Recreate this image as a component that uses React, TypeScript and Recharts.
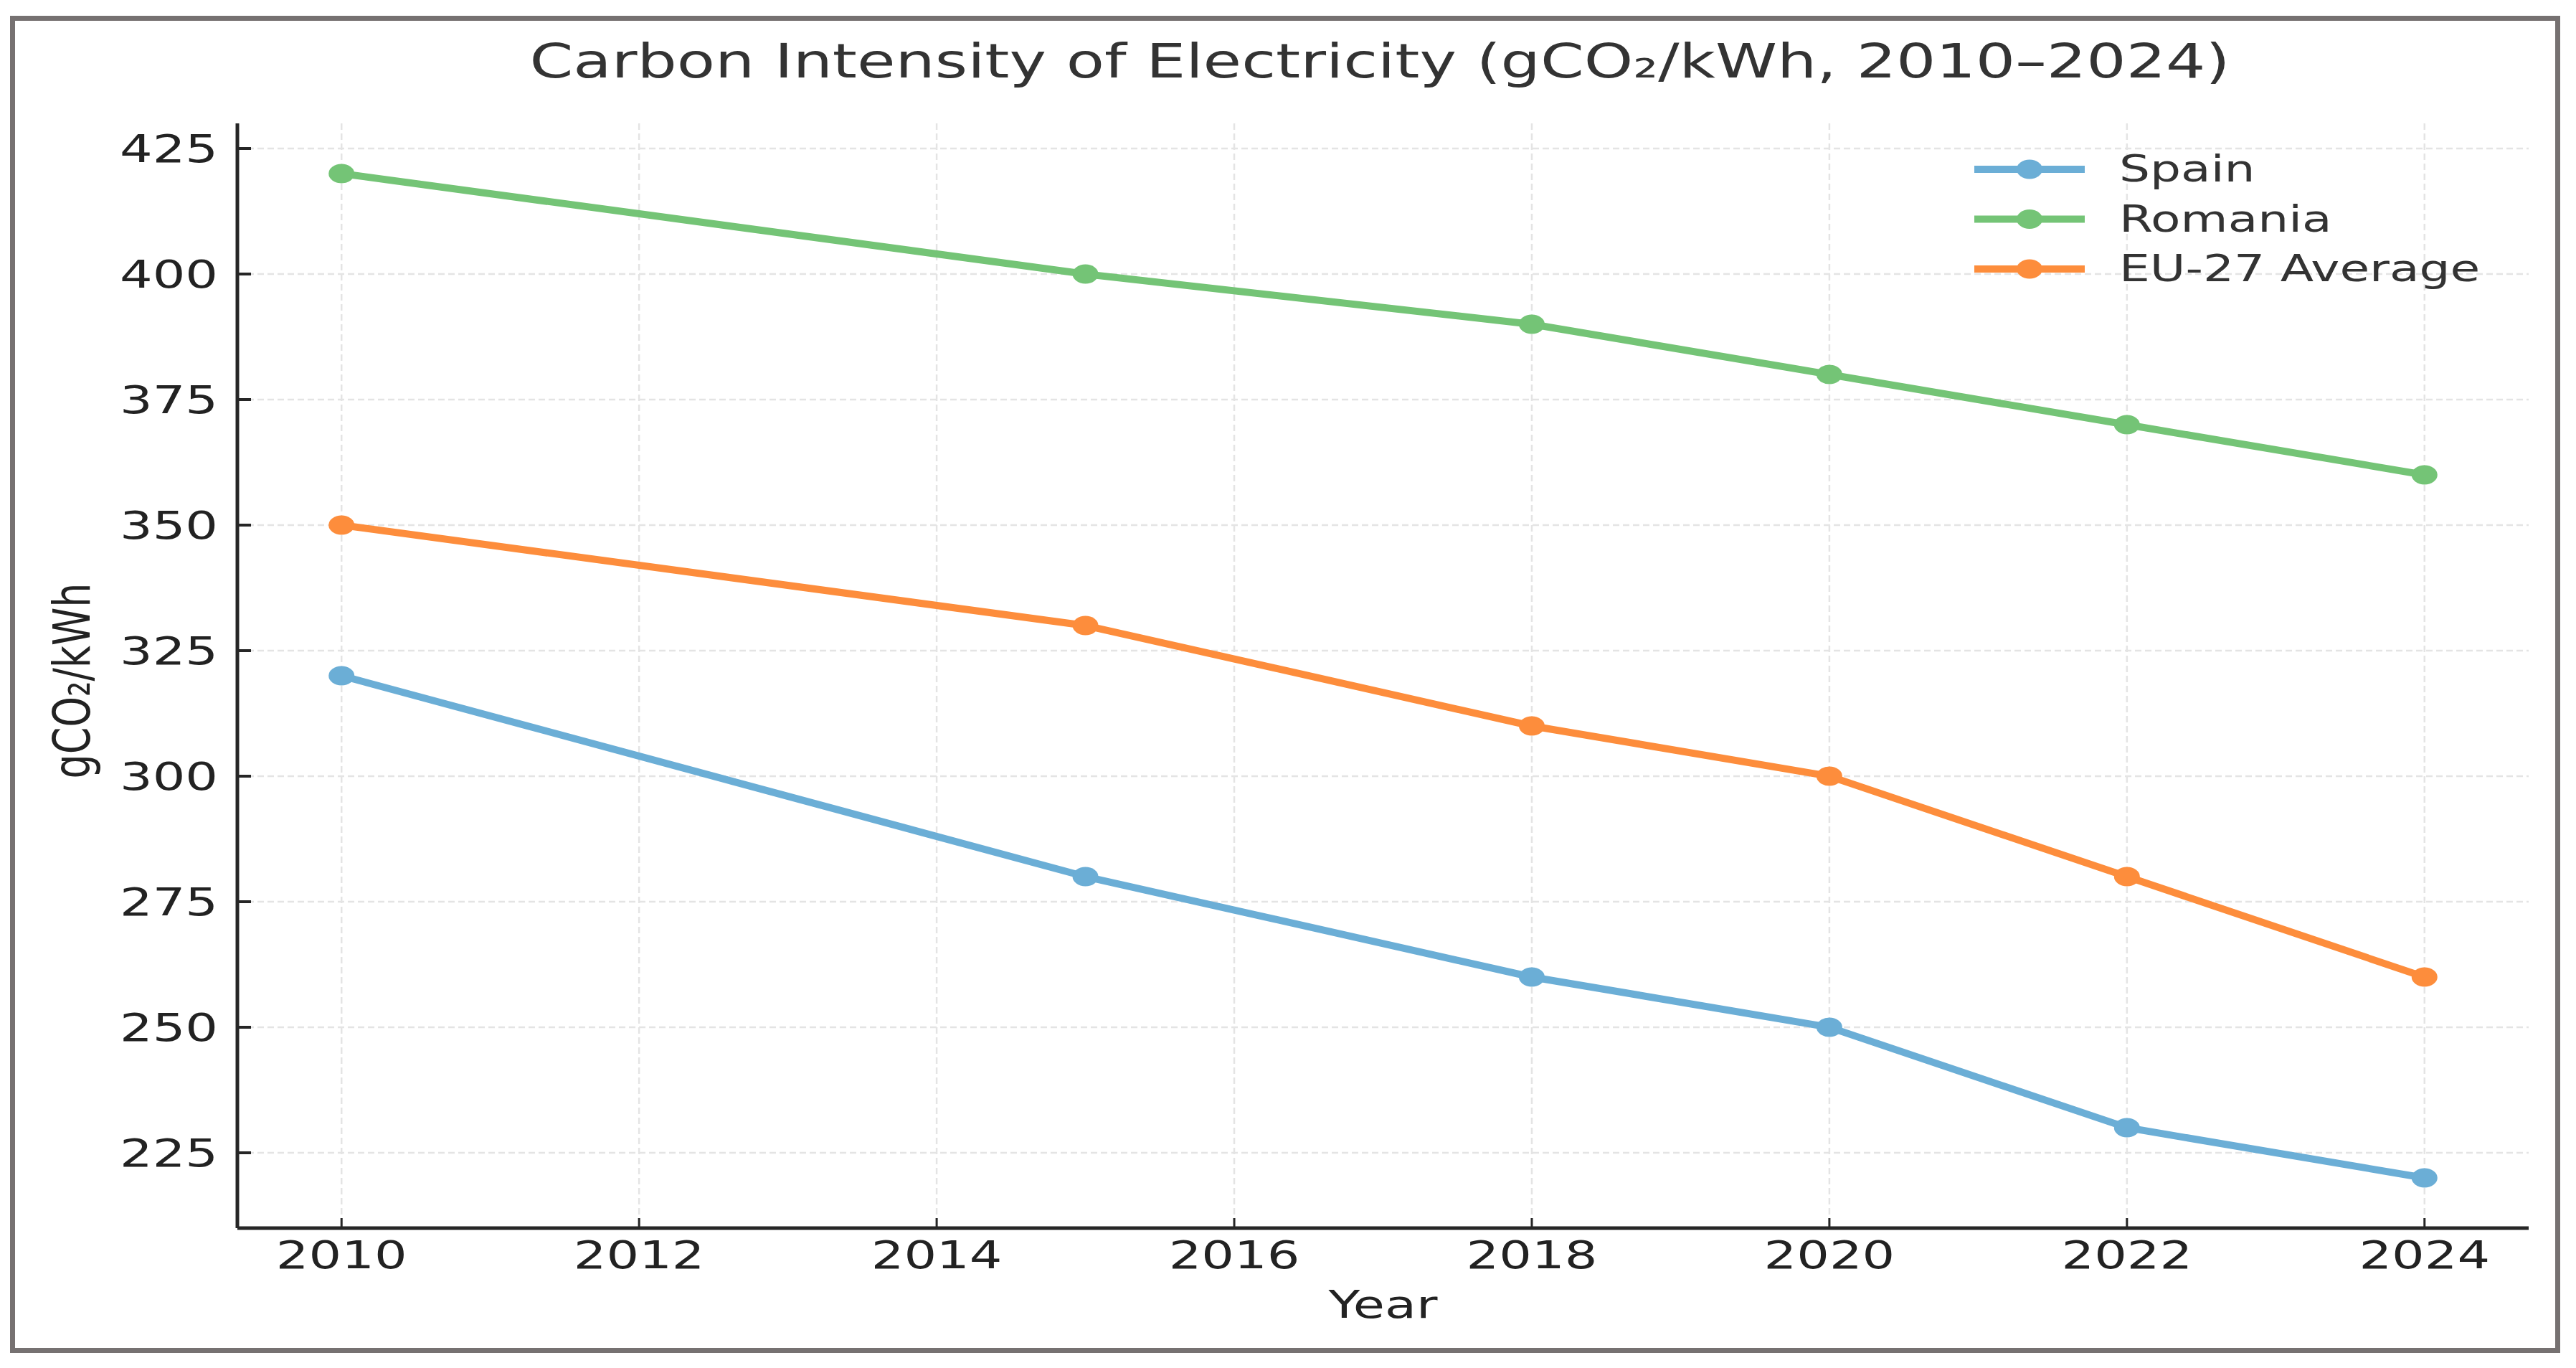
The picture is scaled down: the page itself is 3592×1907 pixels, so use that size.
import { LineChart, Line, XAxis, YAxis, CartesianGrid, Legend } from "recharts";

const years = [2010, 2015, 2018, 2020, 2022, 2024];
const spain = [320, 280, 260, 250, 230, 220];
const romania = [420, 400, 390, 380, 370, 360];
const eu27 = [350, 330, 310, 300, 280, 260];

const seriesNames = ["Spain", "Romania", "EU-27 Average"];
const xTicks = [2010, 2012, 2014, 2016, 2018, 2020, 2022, 2024];
const yTicks = [225, 250, 275, 300, 325, 350, 375, 400, 425];
const xDomain = [2009.3, 2024.7];
const yDomain = [210, 430];

const data = years.map((year, i) => ({
  year,
  spain: spain[i],
  romania: romania[i],
  eu27: eu27[i],
}));

const FONT = "'DejaVu Sans', sans-serif";
const STRETCH = 1.33; // the reference is stretched horizontally
const AXIS = "#262626";

const makeDot = (color: string, name: string) => (props: any) => (
  <ellipse
    key={`${name}-${props.index}`}
    cx={props.cx}
    cy={props.cy}
    rx={18}
    ry={13.5}
    fill={color}
  />
);

// grid only at the tick values, not at the plot edges
const verticalGrid = (args: any) => {
  const o = args && args.offset;
  if (!o || typeof o.left !== "number") return [];
  return xTicks.map((t) => o.left + ((t - xDomain[0]) / (xDomain[1] - xDomain[0])) * o.width);
};
const horizontalGrid = (args: any) => {
  const o = args && args.offset;
  if (!o || typeof o.top !== "number") return [];
  return yTicks.map((t) => o.top + ((yDomain[1] - t) / (yDomain[1] - yDomain[0])) * o.height);
};

const YTick = (props: any) => {
  const { x, y, payload } = props;
  return (
    <g>
      <line x1={x + 27} x2={x + 46} y1={y} y2={y} stroke={AXIS} strokeWidth={4} />
      <g transform={`translate(${x},${y}) scale(${STRETCH},1)`}>
        <text x={0} y={0} dy={19} textAnchor="end" fontSize={54} fontFamily={FONT} fill="#222">
          {payload.value}
        </text>
      </g>
    </g>
  );
};

const XTick = (props: any) => {
  const { x, y, payload } = props;
  return (
    <g>
      <line x1={x} x2={x} y1={y - 17} y2={y - 31} stroke={AXIS} strokeWidth={3} />
      <g transform={`translate(${x},${y}) scale(${STRETCH},1)`}>
        <text x={0} y={39} textAnchor="middle" fontSize={54} fontFamily={FONT} fill="#222">
          {payload.value}
        </text>
      </g>
    </g>
  );
};

const XTitle = (props: any) => {
  const { x, y, width } = props.viewBox;
  return (
    <g transform={`translate(${x + width / 2},${y + 125}) scale(${STRETCH},1)`}>
      <text textAnchor="middle" fontSize={54} fontFamily={FONT} fill="#222">
        Year
      </text>
    </g>
  );
};

const YTitle = (props: any) => {
  const { x, y, width, height } = props.viewBox;
  return (
    <g transform={`translate(${x + width - 206},${y + height / 2 + 7}) scale(${STRETCH},1) rotate(-90)`}>
      <text textAnchor="middle" fontSize={54} fontFamily={FONT} fill="#222">
        gCO₂/kWh
      </text>
    </g>
  );
};

const LegendBox = (props: any) => {
  const items = [...(props.payload || [])].sort(
    (a: any, b: any) => seriesNames.indexOf(a.value) - seriesNames.indexOf(b.value)
  );
  return (
    <svg width={820} height={230}>
      {items.map((item: any, i: number) => {
        const cy = 36 + i * 69.5;
        return (
          <g key={item.value}>
            <line x1={13} x2={167} y1={cy} y2={cy} stroke={item.color} strokeWidth={10} />
            <ellipse cx={90} cy={cy} rx={18} ry={13.5} fill={item.color} />
            <g transform={`translate(215,${cy + 17}) scale(${STRETCH},1)`}>
              <text fontSize={51} fontFamily={FONT} fill="#333">
                {item.value}
              </text>
            </g>
          </g>
        );
      })}
    </svg>
  );
};

export default function App() {
  return (
    <div style={{ position: "absolute", left: 0, top: 0, width: 3592, height: 1907, background: "#fff" }}>
      <div
        style={{
          position: "absolute",
          left: 14,
          top: 22,
          width: 3556,
          height: 1864,
          boxSizing: "border-box",
          border: "7px solid #767171",
        }}
      />
      <svg style={{ position: "absolute", left: 0, top: 0 }} width={3592} height={160}>
        <g transform={`translate(1924,108) scale(${STRETCH},1)`}>
          <text textAnchor="middle" fontSize={65.5} fontFamily={FONT} fill="#333">
            Carbon Intensity of Electricity (gCO₂/kWh, 2010–2024)
          </text>
        </g>
      </svg>
      <div style={{ position: "absolute", left: 0, top: 0 }}>
        <LineChart
          width={3592}
          height={1907}
          data={data}
          margin={{ top: 172, left: 330, right: 66, bottom: 194 }}
        >
          <CartesianGrid
            stroke="#e4e4e4"
            strokeWidth={2.5}
            strokeDasharray="9 5"
            verticalCoordinatesGenerator={verticalGrid}
            horizontalCoordinatesGenerator={horizontalGrid}
          />
          <XAxis
            dataKey="year"
            type="number"
            domain={xDomain}
            ticks={xTicks}
            interval={0}
            height={1}
            tickSize={0}
            tickMargin={17}
            tickLine={false}
            axisLine={{ stroke: AXIS, strokeWidth: 5 }}
            tick={XTick}
            label={XTitle}
          />
          <YAxis
            type="number"
            domain={yDomain}
            ticks={yTicks}
            interval={0}
            width={1}
            tickSize={0}
            tickMargin={27}
            tickLine={false}
            axisLine={{ stroke: AXIS, strokeWidth: 5 }}
            tick={YTick}
            label={YTitle}
          />
          <Legend
            layout="vertical"
            align="center"
            verticalAlign="middle"
            content={LegendBox}
            wrapperStyle={{ left: 2740, top: 200, width: 820, height: 230 }}
          />
          <Line
            name="Spain"
            dataKey="spain"
            stroke="#6baed6"
            strokeWidth={10}
            dot={makeDot("#6baed6", "spain")}
            activeDot={false}
            isAnimationActive={false}
          />
          <Line
            name="Romania"
            dataKey="romania"
            stroke="#74c476"
            strokeWidth={10}
            dot={makeDot("#74c476", "romania")}
            activeDot={false}
            isAnimationActive={false}
          />
          <Line
            name="EU-27 Average"
            dataKey="eu27"
            stroke="#fd8d3c"
            strokeWidth={10}
            dot={makeDot("#fd8d3c", "eu27")}
            activeDot={false}
            isAnimationActive={false}
          />
        </LineChart>
      </div>
    </div>
  );
}
